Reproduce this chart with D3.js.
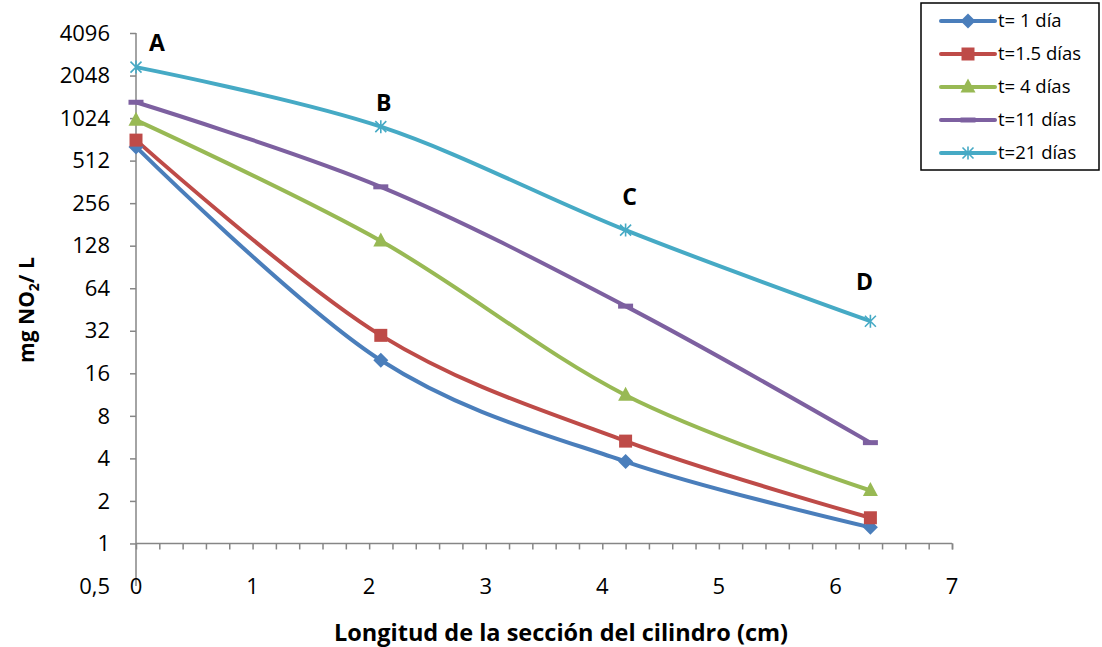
<!DOCTYPE html>
<html>
<head>
<meta charset="utf-8">
<script src="https://cdn.jsdelivr.net/npm/d3@7"></script>
<style>
  html, body { margin: 0; padding: 0; background: #fff; }
  svg { display: block; font-family: "Open Sans", "Noto Sans", sans-serif; }
</style>
</head>
<body>
<svg id="chart" width="1102" height="647"></svg>
<script>
// ---- data ----
const xPositions = [0, 2.1, 4.2, 6.3];
const pointLabels = ["A", "B", "C", "D"];
const seriesNames = ["t= 1 día", "t=1.5 días", "t= 4 días", "t=11 días", "t=21 días"];
const t1 = [640, 19.8, 3.8, 1.30];
const t15 = [715, 29.7, 5.3, 1.52];
const t4 = [990, 138, 11.2, 2.37];
const t11 = [1325, 334, 47.8, 5.17];
const t21 = [2350, 890, 165, 37.4];
const yTickValues = [0.5, 1, 2, 4, 8, 16, 32, 64, 128, 256, 512, 1024, 2048, 4096];
const xTickValues = [0, 1, 2, 3, 4, 5, 6, 7];
const xTitle = "Longitud de la sección del cilindro (cm)";

const seriesValues = [t1, t15, t4, t11, t21];
const colors = ["#4A7EBB", "#BE4B48", "#98B954", "#7D60A0", "#46AAC5"];
const markers = ["diamond", "square", "triangle", "dash", "star"];

const svg = d3.select("#chart");
const x = d3.scaleLinear().domain([0, 7]).range([136, 952]);
const y = d3.scaleLog().base(2).domain([0.5, 4096]).range([586, 33]);
const axisColor = "#868686";

// y axis
const yAxis = d3.axisLeft(y).tickValues(yTickValues.filter(v => v >= 1))
  .tickSize(6).tickFormat("");
const gy = svg.append("g").attr("transform", `translate(${x(0)},0)`).call(yAxis);
gy.select(".domain").remove();
gy.selectAll("line").attr("stroke", axisColor).attr("stroke-width", 1.5);
svg.append("line").attr("x1", x(0)).attr("x2", x(0)).attr("y1", y(4096)).attr("y2", y(0.5))
  .attr("stroke", axisColor).attr("stroke-width", 1.5);
svg.append("g").selectAll("text").data(yTickValues).join("text")
  .attr("x", 110).attr("y", d => y(d)).attr("dy", "0.35em")
  .attr("text-anchor", "end").attr("font-size", 22).attr("fill", "#000")
  .text(d => d === 0.5 ? "0,5" : d);

// x axis (crosses at 1)
const minorX = d3.range(0, 36).map(i => i * 0.2);
const xAxis = d3.axisBottom(x).tickValues(minorX.concat([7])).tickSize(6).tickFormat("");
const gx = svg.append("g").attr("transform", `translate(0,${y(1)})`).call(xAxis);
gx.select(".domain").attr("stroke", axisColor).attr("stroke-width", 1.5)
  .attr("d", `M${x(0)},0H${x(7)}`);
gx.selectAll("line").attr("stroke", axisColor).attr("stroke-width", 1.5);
svg.append("g").selectAll("text").data(xTickValues).join("text")
  .attr("x", d => x(d)).attr("y", y(0.5)).attr("dy", "0.35em")
  .attr("text-anchor", "middle").attr("font-size", 22).attr("fill", "#000")
  .text(d => d);

// titles
svg.append("text").attr("x", 561).attr("y", 641).attr("text-anchor", "middle")
  .attr("font-size", 23.5).attr("font-weight", "bold").text(xTitle);
const yt = svg.append("text").attr("transform", "translate(34,310) rotate(-90)")
  .attr("text-anchor", "middle").attr("font-size", 21).attr("font-weight", "bold");
yt.append("tspan").text("mg NO");
yt.append("tspan").attr("font-size", 14).attr("dy", 5).text("2");
yt.append("tspan").attr("dy", -5).text("/ L");

// markers
function markerPath(type) {
  switch (type) {
    case "diamond": return "M0,-7.5L7.5,0L0,7.5L-7.5,0Z";
    case "square": return "M-6.5,-6.5H6.5V6.5H-6.5Z";
    case "triangle": return "M0,-8.5L7.5,5.5H-7.5Z";
    case "dash": return "M-7.5,-2.5H7.5V2.5H-7.5Z";
    case "star": return "M-5.5,-5.5L5.5,5.5M-5.5,5.5L5.5,-5.5M0,-6.5V6.5";
  }
}
function drawMarker(g, type, color) {
  if (type === "star") {
    g.append("path").attr("d", markerPath(type)).attr("fill", "none")
      .attr("stroke", color).attr("stroke-width", 1.6);
  } else {
    g.append("path").attr("d", markerPath(type)).attr("fill", color);
  }
}

// lines
const line = d3.line().x(d => x(d[0])).y(d => y(d[1])).curve(d3.curveCardinal.tension(0));
seriesValues.forEach((vals, i) => {
  const pts = vals.map((v, j) => [xPositions[j], v]);
  svg.append("path").datum(pts).attr("d", line).attr("fill", "none")
    .attr("stroke", colors[i]).attr("stroke-width", 4).attr("stroke-linejoin", "round");
});
seriesValues.forEach((vals, i) => {
  vals.forEach((v, j) => {
    const g = svg.append("g").attr("transform", `translate(${x(xPositions[j])},${y(v)})`);
    drawMarker(g, markers[i], colors[i]);
  });
});

// point labels (label anchor values on the y scale, plus pixel nudges)
const labelVals = [3470, 1306, 282, 71];
const labelDx = [21, 3, 4, -6];
svg.append("g").selectAll("text").data(pointLabels).join("text")
  .attr("x", (d, i) => x(xPositions[i]) + labelDx[i])
  .attr("y", (d, i) => y(labelVals[i])).attr("dy", "0.35em")
  .attr("text-anchor", "middle").attr("font-size", 23).attr("font-weight", "bold")
  .text(d => d);

// legend
const lg = svg.append("g");
lg.append("rect").attr("x", 921).attr("y", 3).attr("width", 178).attr("height", 167)
  .attr("fill", "#fff").attr("stroke", "#000").attr("stroke-width", 1.5);
seriesNames.forEach((name, i) => {
  const cy = 21 + i * 33;
  lg.append("line").attr("x1", 941).attr("x2", 995).attr("y1", cy).attr("y2", cy)
    .attr("stroke", colors[i]).attr("stroke-width", 4).attr("stroke-linecap", "round");
  const g = lg.append("g").attr("transform", `translate(968,${cy})`);
  drawMarker(g, markers[i], colors[i]);
  lg.append("text").attr("x", 998).attr("y", cy).attr("dy", "0.35em")
    .attr("font-size", 18.5).text(name);
});
</script>
</body>
</html>
